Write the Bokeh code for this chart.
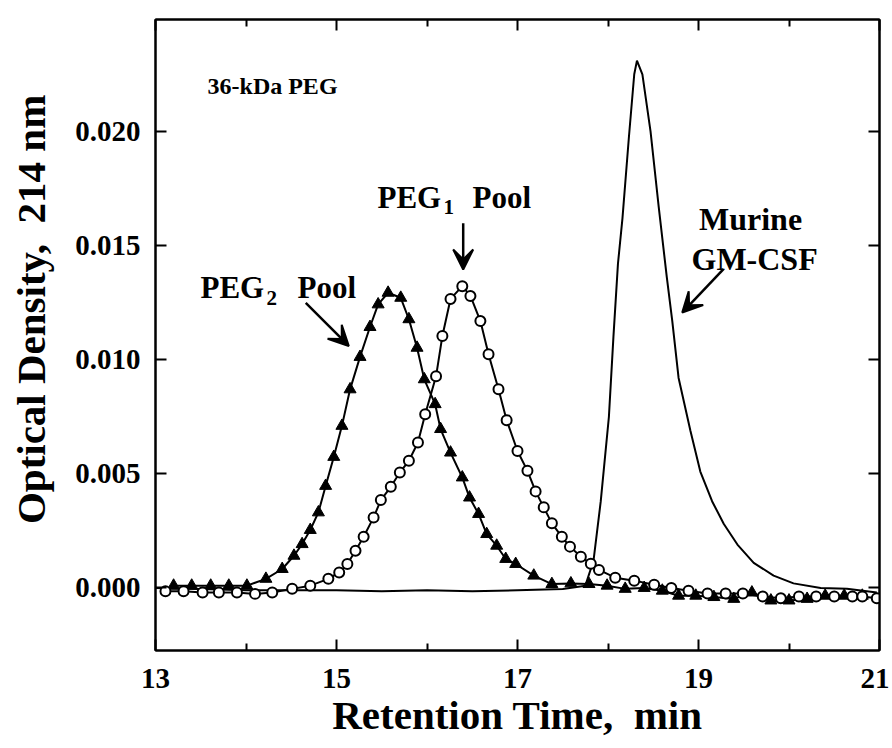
from bokeh.plotting import figure
from bokeh.models import (LinearAxis, FixedTicker, PrintfTickFormatter, Range1d,
                          Arrow, VeeHead, Label, CustomLabelingPolicy)
from bokeh.embed import file_html
from bokeh.resources import INLINE

# ---------------- data ----------------
peg1_x = [13.11, 13.31, 13.52, 13.70, 13.90, 14.10, 14.29, 14.51, 14.71, 14.91,
          15.03, 15.12, 15.21, 15.30, 15.41, 15.49, 15.60, 15.70, 15.80, 15.90,
          15.98, 16.10, 16.17, 16.26, 16.39, 16.48, 16.59, 16.68, 16.79, 16.88,
          17.00, 17.11, 17.20, 17.29, 17.38, 17.49, 17.58, 17.70, 17.81, 17.90,
          18.08, 18.29, 18.51, 18.70, 18.89, 19.10, 19.30, 19.49, 19.71, 19.91,
          20.11, 20.30, 20.50, 20.70, 20.81, 20.97]
peg1_y = [-0.00015, -0.00015, -0.0002, -0.0002, -0.0002, -0.00026, -0.0002, -0.00004, 0.0001, 0.0004,
          0.00068, 0.00105, 0.00163, 0.00224, 0.00309, 0.00385, 0.00443, 0.00506, 0.00557, 0.00637,
          0.00761, 0.00927, 0.01104, 0.01266, 0.01322, 0.01279, 0.01169, 0.01024, 0.0087, 0.00735,
          0.0060, 0.00513, 0.00423, 0.00353, 0.00283, 0.00224, 0.00181, 0.00137, 0.00106, 0.00079,
          0.00045, 0.00032, 0.00014, 0.0, -0.00012, -0.00024, -0.00024, -0.00024, -0.00037, -0.00045,
          -0.00037, -0.00037, -0.00037, -0.00037, -0.00037, -0.00045]

peg2_x = [13.20, 13.40, 13.61, 13.81, 14.01, 14.22, 14.40, 14.53, 14.62, 14.71,
          14.80, 14.88, 14.97, 15.06, 15.15, 15.26, 15.37, 15.46, 15.57, 15.71,
          15.80, 15.89, 15.97, 16.09, 16.15, 16.26, 16.39, 16.47, 16.57, 16.66,
          16.77, 16.87, 16.98, 17.18, 17.38, 17.59, 17.79, 17.99, 18.19, 18.40,
          18.60, 18.78, 18.97, 19.17, 19.39, 19.59, 19.80, 20.00, 20.20, 20.40,
          20.61, 20.81]
peg2_y = [0.0001, 0.0001, 0.0001, 0.0001, 0.0001, 0.0004, 0.00083, 0.00141, 0.00192, 0.00254,
          0.00331, 0.00447, 0.00574, 0.0071, 0.0087, 0.01012, 0.01143, 0.01242, 0.01293, 0.01271,
          0.01177, 0.01052, 0.00914, 0.00805, 0.00696, 0.00593, 0.00484, 0.00396, 0.00324, 0.00236,
          0.00185, 0.00127, 0.00105, 0.00054, 0.00017, 0.0002, 0.00017, 0.0001, -0.00004, 0.0,
          -0.00012, -0.00034, -0.00034, -0.0004, -0.00048, -0.0002, -0.00055, -0.00055, -0.00048, -0.00034,
          -0.00034, -0.00034]

gm_x = [13.0, 13.5, 14.0, 14.5, 15.0, 15.5, 16.0, 16.5, 17.0, 17.5,
        17.75, 17.84, 17.92, 18.01, 18.06, 18.11, 18.16, 18.23, 18.29, 18.32,
        18.38, 18.47, 18.56, 18.65, 18.71, 18.78, 18.91, 19.02, 19.15, 19.28,
        19.43, 19.61, 19.83, 20.05, 20.35, 20.64, 20.97]
gm_y = [0.0, -0.00005, -0.0001, -0.0001, -0.0001, -0.00015, -0.0001, -0.00015, -0.0001, -0.00005,
        0.0001, 0.0012, 0.0038, 0.0075, 0.011, 0.0142, 0.0162, 0.0197, 0.0225, 0.0231,
        0.0225, 0.0200, 0.0167, 0.0136, 0.0117, 0.0092, 0.0069, 0.0051, 0.0038, 0.0028,
        0.0019, 0.0011, 0.00054, 0.0002, 0.0, -0.00004, -0.0002]

x_major = [13, 15, 17, 19, 21]
x_minor = [14, 16, 18, 20]
y_major = [0.0, 0.005, 0.010, 0.015, 0.020]

FONT = "Liberation Serif"
NB = "\u00a0"

# ---------------- figure ----------------
p = figure(width=889, height=748, x_range=Range1d(13, 21), y_range=Range1d(-0.00274, 0.0249),
           output_backend="svg", toolbar_location=None,
           min_border_left=155, min_border_right=10, min_border_top=19, min_border_bottom=98)
p.xgrid.visible = False
p.ygrid.visible = False
p.outline_line_color = "black"
p.outline_line_width = 2
p.background_fill_color = "white"
p.border_fill_color = "white"

xt = FixedTicker(ticks=x_major, minor_ticks=x_minor)
yt = FixedTicker(ticks=y_major, minor_ticks=[])


def style_axis(ax, labels=True):
    ax.axis_line_color = "black"
    ax.axis_line_width = 2
    ax.major_tick_line_width = 2
    ax.minor_tick_line_width = 2
    ax.major_tick_in = 11
    ax.major_tick_out = 0
    ax.minor_tick_in = 7
    ax.minor_tick_out = 0
    if labels:
        ax.major_label_text_font = FONT
        ax.major_label_text_font_style = "bold"
        ax.major_label_text_font_size = "29px"
        ax.major_label_text_color = "black"
        ax.axis_label_text_font = FONT
        ax.axis_label_text_font_style = "bold"
        ax.axis_label_text_font_size = "41px"
        ax.axis_label_text_color = "black"
    else:
        ax.major_label_policy = CustomLabelingPolicy(code="return []")
        ax.major_label_text_font_size = "1px"
        ax.major_label_standoff = 0


bx = p.xaxis[0]
bx.ticker = xt
style_axis(bx)
bx.major_label_standoff = 18
bx.axis_label = "Retention Time," + NB + " min"
bx.axis_label_standoff = 1

ly = p.yaxis[0]
ly.ticker = yt
ly.formatter = PrintfTickFormatter(format="%.3f")
style_axis(ly)
ly.major_label_standoff = 15
ly.axis_label = NB * 5 + "Optical Density," + NB + " 214 nm"
ly.axis_label_standoff = 18

tx = LinearAxis(ticker=xt)
style_axis(tx, labels=False)
p.add_layout(tx, "above")
ry = LinearAxis(ticker=yt)
style_axis(ry, labels=False)
p.add_layout(ry, "right")

# ---------------- series ----------------
p.line(gm_x, gm_y, line_color="black", line_width=2)
p.line(peg2_x, peg2_y, line_color="black", line_width=2)
p.scatter(peg2_x, peg2_y, marker="triangle", size=12, fill_color="black", line_color="black")
p.line(peg1_x, peg1_y, line_color="black", line_width=2)
p.scatter(peg1_x, peg1_y, marker="circle", size=10, fill_color="white", line_color="black",
          line_width=2)


# ---------------- annotations ----------------
def lab(x, y, text, size, align="left", xo=0, yo=0):
    p.add_layout(Label(x=x, y=y, text=text, text_font=FONT, text_font_style="bold",
                       text_font_size=size, text_color="black", text_align=align,
                       text_baseline="alphabetic", x_offset=xo, y_offset=yo))


lab(13.575, 0.02200, "36-kDa PEG", "24px")

# PEG2 Pool
lab(13.497, 0.01314, "PEG", "31px")
lab(13.497, 0.01314, "2", "21px", xo=66, yo=-10)
lab(13.497, 0.01314, "Pool", "31px", xo=97)

# PEG1 Pool
lab(15.453, 0.01712, "PEG", "31px")
lab(15.453, 0.01712, "1", "21px", xo=66, yo=-10)
lab(15.453, 0.01712, "Pool", "31px", xo=95)

# Murine GM-CSF
lab(19.575, 0.01616, "Murine", "32px", align="center")
lab(19.62, 0.01441, "GM-CSF", "32px", align="center")

head = dict(size=20, fill_color="black", line_color="black", line_width=2)
p.add_layout(Arrow(end=VeeHead(**head), x_start=14.66, y_start=0.01249, x_end=15.136, y_end=0.0106,
                   line_color="black", line_width=2.5))
p.add_layout(Arrow(end=VeeHead(**head), x_start=16.40, y_start=0.01598, x_end=16.40, y_end=0.01395,
                   line_color="black", line_width=2.5))
p.add_layout(Arrow(end=VeeHead(**head), x_start=19.276, y_start=0.01397, x_end=18.82, y_end=0.01206,
                   line_color="black", line_width=2.5))

open("out.html", "w").write(file_html(p, INLINE))
